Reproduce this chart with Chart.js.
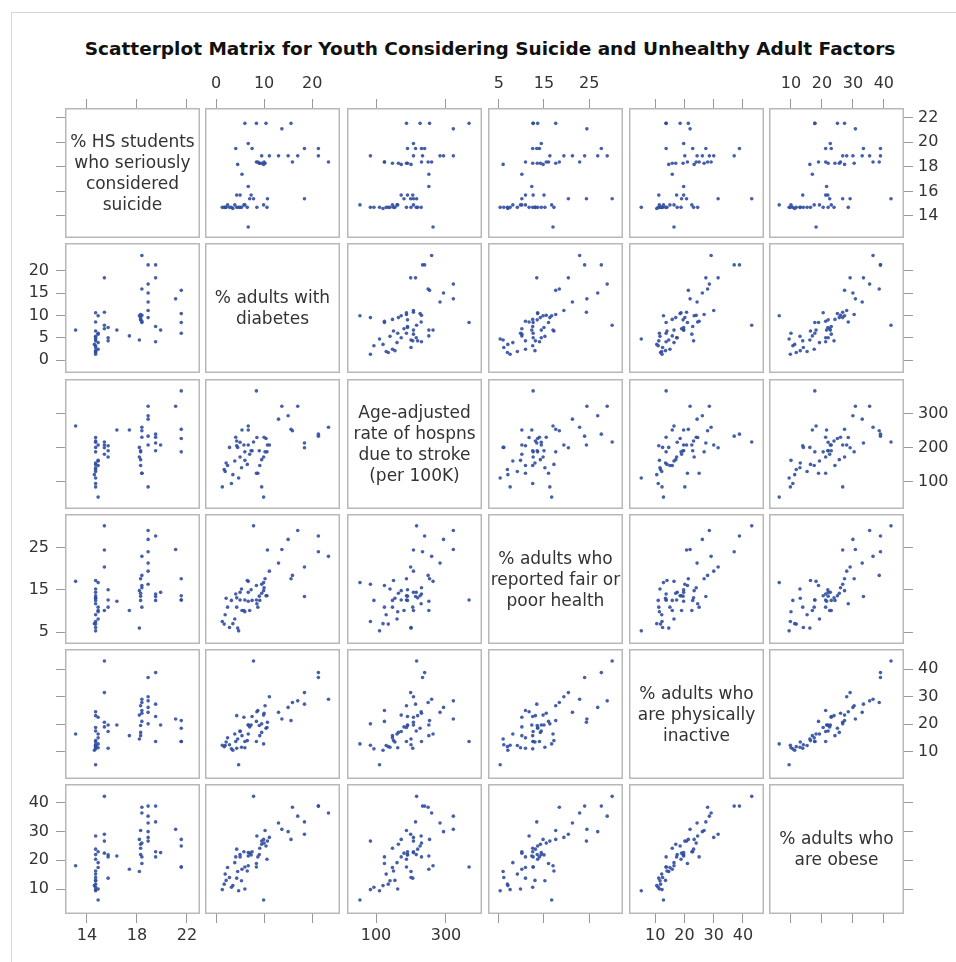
<!DOCTYPE html>
<html>
<head>
<meta charset="utf-8">
<script src="https://cdn.jsdelivr.net/npm/chart.js@4.4.1/dist/chart.umd.min.js"></script>
<style>
  html, body { margin: 0; padding: 0; background: #fff; overflow: hidden; }
  body { width: 956px; height: 962px; position: relative; font-family: "DejaVu Sans", sans-serif; }
  #frame { position: absolute; left: 11px; top: 12px; width: 1000px; height: 1000px; border: 1px solid #d6d6d6; }
  #title { position: absolute; left: 0; top: 38px; width: 980px; text-align: center;
           font: bold 18.5px/22px "DejaVu Sans", sans-serif; color: #111; }
  .cell { position: absolute; }
  .lab { position: absolute; display: flex; align-items: center; justify-content: center; text-align: center;
         font: 17px/21px "DejaVu Sans", sans-serif; color: #333; }
</style>
</head>
<body>
<div id="frame"></div>
<div id="title">Scatterplot Matrix for Youth Considering Suicide and Unhealthy Adult Factors</div>
<script>
// variable names, shown on the diagonal
const varLabels = [
    '% HS students<br>who seriously<br>considered<br>suicide',
    '% adults with<br>diabetes',
    'Age-adjusted<br>rate of hospns<br>due to stroke<br>(per 100K)',
    '% adults who<br>reported fair or<br>poor health',
    '% adults who<br>are physically<br>inactive',
    '% adults who<br>are obese'
];

// one value per county, same order in every array
const suicide  = [13.1, 14.7,14.9,14.7,14.7,14.9,14.7,14.7,14.7,14.9,14.7,14.7,14.9,14.7,14.7,14.7,14.7,14.9,14.6,14.7,
                  15.4,15.4,15.4,15.7,15.7,15.7,15.4, 16.4, 17.4,
                  18.4,18.4,18.3,18.2,18.3,18.3,18.4,18.4,18.2,18.3,18.4,
                  18.9,18.9,18.9,18.9,18.9,18.9, 19.5,19.5,19.5,19.5,19.9, 21.1, 21.55,21.55,21.55,21.55];
const diabetes = [6.7, 10.6,9.9,8.5,6.5,5.8,5.3,4.7,4.3,3.9,3.2,2.8,2.4,1.9,1.7,1.3,5.0,6.0,3.5,2.1,
                  7.8,18.4,10.7,7.3,5.0,4.3,7.0, 6.7, 5.4,
                  23.4,15.9,10.2,9.9,9.5,9.1,8.7,8.4,4.5,9.0,10.0,
                  21.3,17.0,15.0,13.0,11.1,9.5, 21.3,18.4,7.5,4.1,6.7, 13.7, 8.4,15.6,10.4,6.0];
const stroke   = [263, 187,54,229,150,207,140,110,219,160,94,200,147,129,135,84,215,162,120,154,
                  216,199,207,190,172,205,180, 251, 251,
                  259,249,187,172,164,147,124,124,200,190,230,
                  233,321,293,283,207,84, 239,213,190,230,207, 321, 366,253,226,187];
const health   = [17.0, 13.6,16.7,11.7,17.2,10.1,15.2,5.3,13.1,8.1,12.5,6.1,10.9,9.1,6.9,7.5,14.4,9.8,7.0,13.0,
                  30.1,20.4,24.4,15.0,12.6,10.9,10.1, 12.3, 10.1,
                  22.9,18.4,17.6,14.8,14.2,12.5,10.9,16.0,5.95,13.5,15.5,
                  24.0,29.0,26.9,21.3,19.4,16.3, 27.7,13.4,12.5,14.0,14.4, 24.5, 12.6,17.6,13.6,12.6];
const inactive = [16.4, 18.8,12.8,24.5,14.0,22.5,11.6,5.2,23.1,16.4,11.0,12.5,15.0,12.2,11.8,12.3,17.5,11.4,10.5,13.5,
                  43.0,31.5,20.7,19.7,17.3,11.2,19.0, 19.7, 15.8,
                  29.1,27.9,26.7,23.3,17.0,15.8,25.0,21.0,14.6,19.5,24.0,
                  37.0,28.5,26.1,24.3,30.0,20.1, 38.8,27.3,22.8,13.7,19.7, 21.9, 13.7,21.3,18.5,13.7];
const obese    = [18.1, 20.4,6.2,28.5,16.3,23.0,12.9,9.4,23.9,19.2,10.6,14.0,17.5,15.2,11.7,9.8,22.0,10.0,11.2,13.0,
                  42.3,29.1,26.7,21.9,21.2,13.8,22.5, 21.5, 16.9,
                  36.5,38.5,30.4,27.3,25.6,24.2,21.2,18.9,16.1,22.0,26.0,
                  38.9,35.4,30.0,33.0,28.0,26.7, 38.9,33.4,23.0,21.2,22.7, 30.8, 17.7,27.3,25.0,17.7];

const xRange = [[12.25, 23.05], [-2.3, 25.8], [17, 403], [2.6, 32.5], [1.0, 47.2], [2.9, 46.5]];
const yRange = [[12.2, 22.8], [-2.9, 26.2], [19, 401], [2.2, 32.9], [0.0, 47.4], [1.3, 46.6]];
const xTicks = [[14, 18, 22], [0, 10, 20], [100, 300], [5, 15, 25], [10, 20, 30, 40], [10, 20, 30, 40]];
const yTicks = [[14, 16, 18, 20, 22], [0, 5, 10, 15, 20], [100, 200, 300], [5, 15, 25], [10, 20, 30, 40], [10, 20, 30, 40]];

const vars = [suicide, diabetes, stroke, health, inactive, obese];

// panel layout
const colLeft = [65, 205, 347, 488, 629, 769];
const rowTop = [108, 243, 379, 514, 649, 784];
const W = 135, H = 130, M = 50;
const n = vars.length;

Chart.defaults.font.family = '"DejaVu Sans", sans-serif';

const framePlugin = {
    id: 'frame',
    afterDraw(chart) {
        const a = chart.chartArea, ctx = chart.ctx;
        ctx.save();
        ctx.strokeStyle = '#b8b8b8';
        ctx.lineWidth = 1.5;
        ctx.strokeRect(a.left + 0.75, a.top + 0.75, a.right - a.left - 1.5, a.bottom - a.top - 1.5);
        ctx.restore();
    }
};

const tickPad = { top: 6, bottom: 3, left: 7, right: 5 };

function axis(range, ticks, show, pos, labeled, horizontal) {
    return {
        type: 'linear',
        min: range[0],
        max: range[1],
        display: show,
        position: pos,
        grid: { display: true, drawOnChartArea: false, drawTicks: true, tickLength: 9, tickColor: '#999', tickWidth: 1 },
        border: { display: false },
        ticks: { display: labeled, padding: tickPad[pos], color: '#333', font: { size: 16 }, autoSkip: false, maxRotation: 0 },
        afterBuildTicks: s => { s.ticks = ticks.map(v => ({ value: v })); },
        afterFit: s => {
            // hidden axes take no room, shown ones get a fixed margin; no extra label padding
            const size = show ? M : 0;
            if (horizontal) s.height = size; else s.width = size;
            s.paddingTop = s.paddingBottom = s.paddingLeft = s.paddingRight = 0;
        }
    };
}

for (let r = 0; r < n; r++) {
    for (let c = 0; c < n; c++) {
        const mT = r === 0 ? M : 0, mB = r === n - 1 ? M : 0;
        const mL = c === 0 ? M : 0, mR = c === n - 1 ? M : 0;
        const box = document.createElement('div');
        box.className = 'cell';
        box.style.left = (colLeft[c] - mL) + 'px';
        box.style.top = (rowTop[r] - mT) + 'px';
        const cv = document.createElement('canvas');
        cv.width = W + mL + mR;
        cv.height = H + mT + mB;
        cv.style.width = cv.width + 'px';
        cv.style.height = cv.height + 'px';
        box.appendChild(cv);
        document.body.appendChild(box);

        const datasets = [];
        if (r !== c) {
            datasets.push({
                data: vars[c].map((x, k) => ({ x: x, y: vars[r][k] })),
                pointStyle: 'circle',
                pointRadius: 1.8,
                pointBorderWidth: 0,
                backgroundColor: 'rgba(50,78,160,0.9)',
                borderColor: 'rgba(50,78,160,0.9)'
            });
        }

        const xEdge = r === 0 || r === n - 1;
        const yEdge = c === 0 || c === n - 1;
        new Chart(cv, {
            type: 'scatter',
            data: { datasets: datasets },
            options: {
                responsive: false,
                animation: false,
                layout: { padding: 0, autoPadding: false },
                plugins: { legend: { display: false }, tooltip: { enabled: false } },
                scales: {
                    x: axis(xRange[c], xTicks[c], xEdge, r === 0 ? 'top' : 'bottom',
                            r === 0 ? c % 2 === 1 : c % 2 === 0, true),
                    y: axis(yRange[r], yTicks[r], yEdge, c === 0 ? 'left' : 'right',
                            c === 0 ? r % 2 === 1 : r % 2 === 0, false)
                }
            },
            plugins: [framePlugin]
        });

        if (r === c) {
            const lab = document.createElement('div');
            lab.className = 'lab';
            lab.style.left = colLeft[c] + 'px';
            lab.style.top = rowTop[r] + 'px';
            lab.style.width = W + 'px';
            lab.style.height = H + 'px';
            lab.innerHTML = varLabels[r];
            document.body.appendChild(lab);
        }
    }
}
</script>
</body>
</html>
